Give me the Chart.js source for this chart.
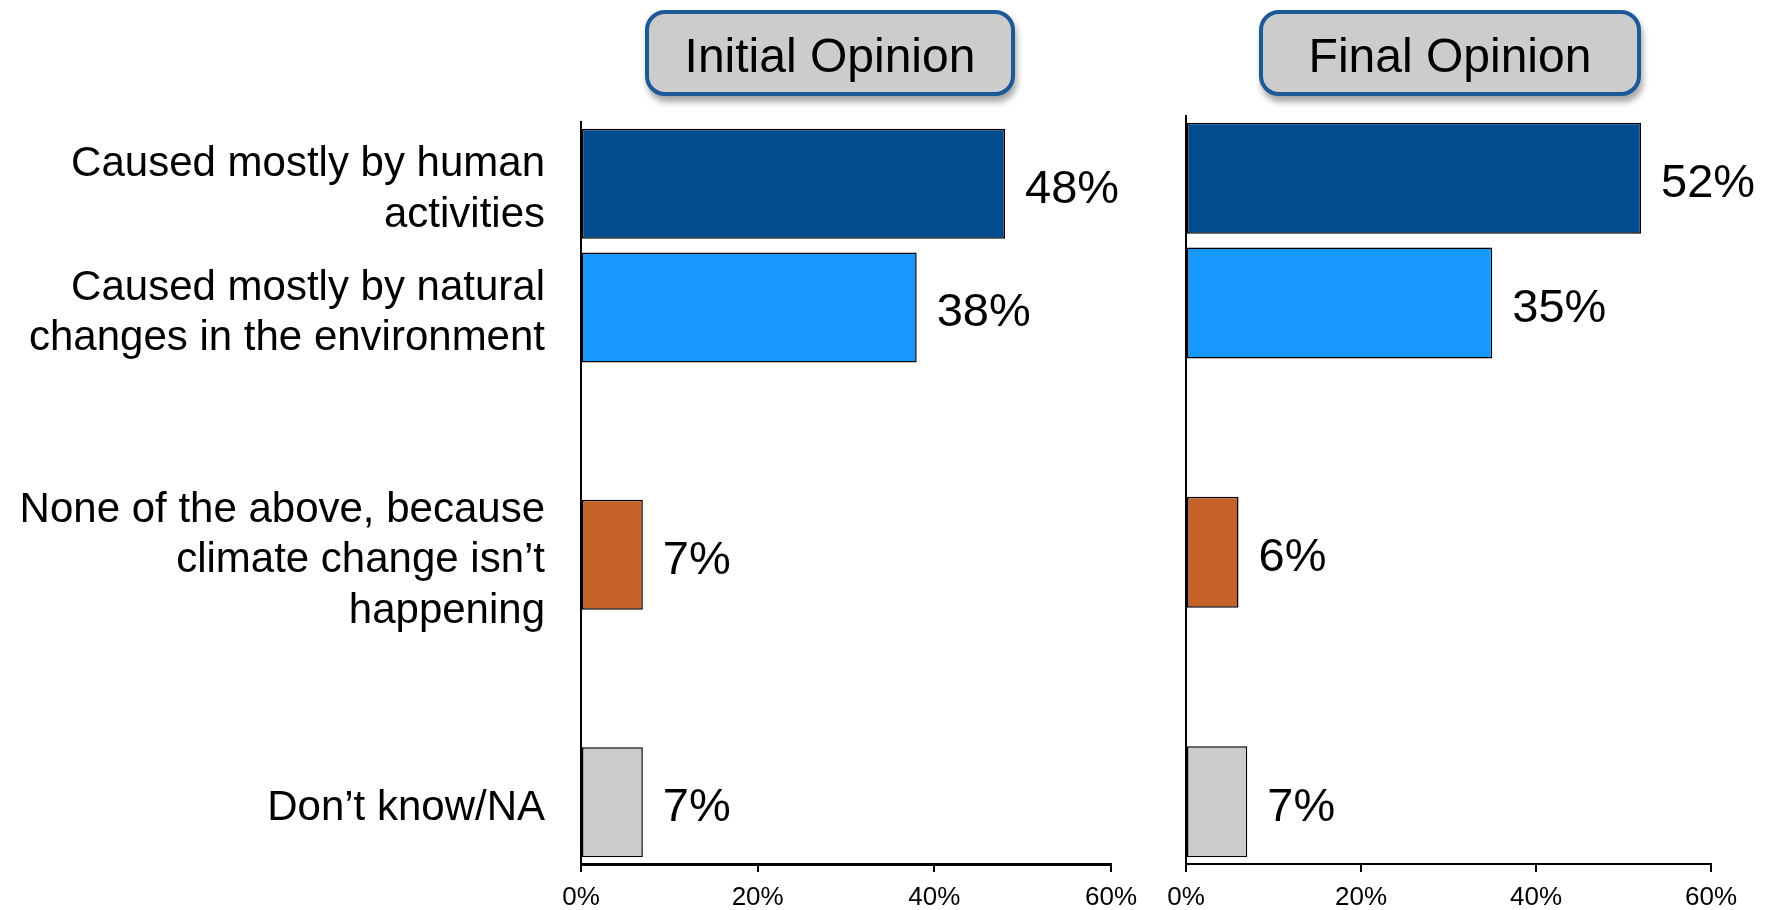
<!DOCTYPE html>
<html>
<head>
<meta charset="utf-8">
<script src="https://cdn.jsdelivr.net/npm/chart.js@4/dist/chart.umd.min.js"></script>
<style>
  body { margin: 0; background: #fff; width: 1767px; height: 910px; overflow: hidden; position: relative; font-family: "Liberation Sans", Arial, sans-serif; }
  #leftChart { position: absolute; left: 0; top: 0; }
  #rightChart { position: absolute; left: 1140px; top: 0; }
  .header {
    position: absolute; top: 10px; height: 78px;
    background: #cccccc; border: 4px solid #1c5996; border-radius: 20px;
    box-shadow: 2px 6px 6px rgba(0,0,0,0.35);
    font-size: 48px; color: #000; text-align: center; line-height: 84px;
  }
</style>
</head>
<body>
<canvas id="leftChart" width="1140" height="910"></canvas>
<canvas id="rightChart" width="627" height="910"></canvas>
<div class="header" style="left:645px; width:362px;">Initial Opinion</div>
<div class="header" style="left:1259px; width:374px;">Final Opinion</div>
<script>
// categories (empty ones are spacer rows in the original)
const categories = [
  ["Caused mostly by human", "activities"],
  ["Caused mostly by natural", "changes in the environment"],
  "",
  ["None of the above, because", "climate change isn’t", "happening"],
  "",
  "Don’t know/NA"
];
const initialOpinion = [48, 38, null, 7, null, 7];
const finalOpinion = [52, 35, null, 6, null, 7];
const barColors = ["#004c8e", "#1899ff", "#ffffff", "#c5622a", "#ffffff", "#cccccc"];

const fontFamily = '"Liberation Sans", Arial, sans-serif';

// draws the "48%" labels next to each bar
const valueLabels = {
  id: "valueLabels",
  afterDatasetsDraw(chart) {
    const ctx = chart.ctx;
    const meta = chart.getDatasetMeta(0);
    const data = chart.data.datasets[0].data;
    ctx.save();
    ctx.font = "47px " + fontFamily;
    ctx.fillStyle = "#000";
    ctx.textAlign = "left";
    ctx.textBaseline = "middle";
    meta.data.forEach((bar, i) => {
      if (data[i] == null) return;
      ctx.fillText(data[i] + "%", bar.x + 20, bar.y + 6);
    });
    ctx.restore();
  }
};

function makeChart(id, values, opts) {
  const ctx = document.getElementById(id);
  return new Chart(ctx, {
    type: "bar",
    data: {
      labels: categories,
      datasets: [{
        data: values,
        backgroundColor: barColors,
        borderColor: "#000",
        borderWidth: 1.5,
        borderSkipped: false,
        barPercentage: 0.89,
        categoryPercentage: 1
      }]
    },
    options: {
      indexAxis: "y",
      responsive: false,
      animation: false,
      layout: { padding: { top: opts.top, right: opts.right, left: 0, bottom: 0 } },
      plugins: { legend: { display: false }, tooltip: { enabled: false } },
      scales: {
        x: {
          min: 0,
          max: 60,
          ticks: {
            stepSize: 20,
            callback: v => v + "%",
            color: "#000",
            font: { size: 26, family: fontFamily },
            padding: 10,
            maxRotation: 0
          },
          grid: { display: true, drawOnChartArea: false, drawTicks: true, tickLength: 8, color: "#000", lineWidth: 2 },
          border: { display: true, color: "#000", width: opts.xBorder },
          afterFit(scale) {
            scale.height = 46;
            scale.paddingLeft = 0;
            scale.paddingRight = 0;
          }
        },
        y: {
          ticks: {
            display: opts.showLabels,
            autoSkip: false,
            color: "#000",
            font: { size: 42, family: fontFamily, lineHeight: 1.2 },
            padding: 28,
            labelOffset: 6
          },
          grid: { display: false },
          border: { display: true, color: "#000", width: 2 },
          afterFit(scale) {
            scale.width = opts.yWidth;
            scale.paddingTop = 0;
            scale.paddingBottom = 0;
          }
        }
      }
    },
    plugins: [valueLabels]
  });
}

makeChart("leftChart", initialOpinion, { top: 122, right: 29, yWidth: 581, xBorder: 3, showLabels: true });
makeChart("rightChart", finalOpinion, { top: 116, right: 56, yWidth: 46, xBorder: 2, showLabels: false });
</script>
</body>
</html>
